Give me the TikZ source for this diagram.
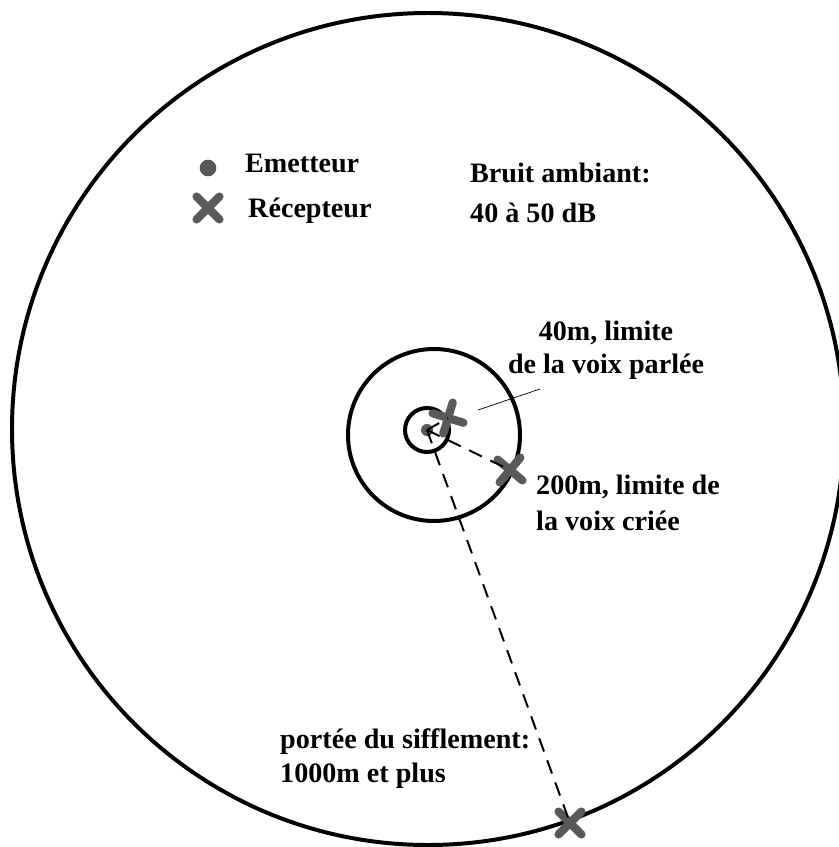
\documentclass[tikz,border=0pt]{standalone}
\usepackage{fontspec}
\setmainfont{Liberation Serif}
\usetikzlibrary{shapes.misc}

\definecolor{markgray}{gray}{0.35}
\tikzset{
  ring/.style={line width=3.4pt},
  emitter/.style={circle, fill=markgray, inner sep=0pt, minimum size=#1},
  receiver/.style={cross out, draw=markgray, line width=7pt, line cap=round,
    inner sep=0pt, minimum size=0.44cm},
  reach/.style={dash pattern=on 12pt off 8pt, line width=1.7pt},
  txt/.style={font=\fontsize{24}{29}\selectfont\bfseries, inner sep=0pt,
    anchor=base west, align=left},
}

\begin{document}
\begin{tikzpicture}[x=0.03cm, y=-0.03cm]
    \useasboundingbox (0,0) rectangle (838,847);

    % Circles
    \draw[ring] (428,429) circle [radius=416];
    \draw[ring] (434,435) circle [radius=86];
    \draw[ring] (427,430) circle [radius=22];

    % Legend
    \node[emitter=0.5cm] (legemit) at (208,168) {};
    \node[txt] (legemittxt) at (245,173) {Emetteur};
    \node[receiver] (legrecv) at (208,208) {};
    \node[txt] (legrecvtxt) at (248,217) {Récepteur};
    \node[txt] (noise) at (470,222) {Bruit ambiant:\\[5pt]40 à 50 dB};

    % Emitter and receivers
    \node[emitter=0.36cm] (emit) at (427,430) {};
    \node[receiver, rotate=28] (recvA) at (448,418) {};
    \node[receiver, rotate=5] (recvB) at (510,470) {};
    \node[receiver] (recvC) at (570,823) {};

    % Ranges
    \draw[reach] (emit.center) -- (recvA.center);
    \draw[reach] (emit.center) -- (recvB.center);
    \draw[reach] (emit.center) -- (recvC.center);

    % Labels
    \node[txt, anchor=base, align=center] (spoken) at (606,373)
      {40m, limite\\[-1pt]de la voix parlée};
    \node[txt] (shout) at (536,530) {200m, limite de\\[1pt]la voix criée};
    \node[txt] (whistle) at (280,782) {portée du sifflement:\\1000m et plus};

    \coordinate (leadA) at (478,410);
    \coordinate (leadB) at (540,389);
    \draw[line width=0.6pt] (leadA) -- (leadB);
\end{tikzpicture}
\end{document}
